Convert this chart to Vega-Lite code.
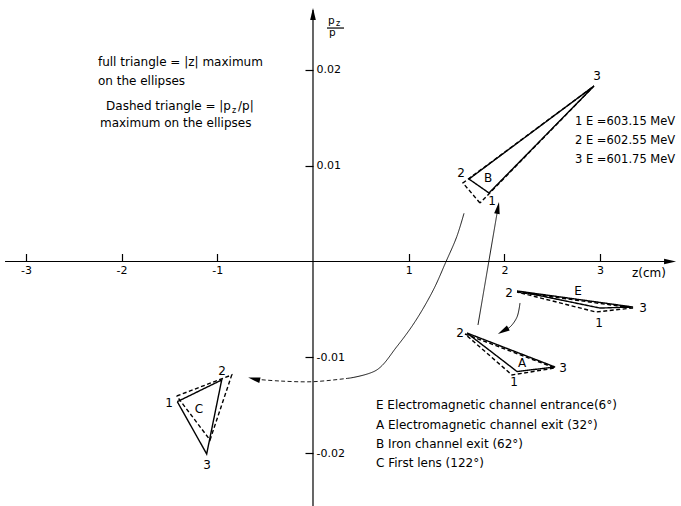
{
  "$schema": "https://vega.github.io/schema/vega-lite/v6.json",
  "width": 681,
  "height": 506,
  "padding": 0,
  "autosize": {"type": "none"},
  "background": "white",
  "config": {"view": {"stroke": null}, "font": "DejaVu Sans"},
  "datasets": {
    "rules": [
      {"z": -3.218, "z2": 3.70, "pz": 0, "pz2": 0},
      {"z": 0, "z2": 0, "pz": 0.0262, "pz2": -0.0256},
      {"z": 0.146, "z2": 0.324, "pz": 0.02432, "pz2": 0.02432}
    ],
    "tri": [
      {"id": "B-s", "style": "solid", "o": 1, "z": 1.839, "pz": 0.00714},
      {"id": "B-s", "style": "solid", "o": 2, "z": 1.630, "pz": 0.00859},
      {"id": "B-s", "style": "solid", "o": 3, "z": 2.936, "pz": 0.01828},
      {"id": "B-s", "style": "solid", "o": 4, "z": 1.839, "pz": 0.00714},
      {"id": "B-d", "style": "dashed", "o": 1, "z": 1.745, "pz": 0.00609},
      {"id": "B-d", "style": "dashed", "o": 2, "z": 1.567, "pz": 0.00818},
      {"id": "B-d", "style": "dashed", "o": 3, "z": 2.936, "pz": 0.01828},
      {"id": "B-d", "style": "dashed", "o": 4, "z": 1.745, "pz": 0.00609},
      {"id": "E-s", "style": "solid", "o": 1, "z": 2.132, "pz": -0.00307},
      {"id": "E-s", "style": "solid", "o": 2, "z": 3.344, "pz": -0.00474},
      {"id": "E-s", "style": "solid", "o": 3, "z": 2.999, "pz": -0.00485},
      {"id": "E-s", "style": "solid", "o": 4, "z": 2.132, "pz": -0.00307},
      {"id": "E-d", "style": "dashed", "o": 1, "z": 2.132, "pz": -0.00318},
      {"id": "E-d", "style": "dashed", "o": 2, "z": 3.344, "pz": -0.00484},
      {"id": "E-d", "style": "dashed", "o": 3, "z": 2.957, "pz": -0.00526},
      {"id": "E-d", "style": "dashed", "o": 4, "z": 2.132, "pz": -0.00318},
      {"id": "A-s", "style": "solid", "o": 1, "z": 1.609, "pz": -0.00745},
      {"id": "A-s", "style": "solid", "o": 2, "z": 2.529, "pz": -0.01099},
      {"id": "A-s", "style": "solid", "o": 3, "z": 2.132, "pz": -0.01146},
      {"id": "A-s", "style": "solid", "o": 4, "z": 1.609, "pz": -0.00745},
      {"id": "A-d", "style": "dashed", "o": 1, "z": 1.588, "pz": -0.00755},
      {"id": "A-d", "style": "dashed", "o": 2, "z": 2.529, "pz": -0.01109},
      {"id": "A-d", "style": "dashed", "o": 3, "z": 2.079, "pz": -0.01182},
      {"id": "A-d", "style": "dashed", "o": 4, "z": 1.588, "pz": -0.00755},
      {"id": "C-s", "style": "solid", "o": 1, "z": -1.418, "pz": -0.01460},
      {"id": "C-s", "style": "solid", "o": 2, "z": -0.954, "pz": -0.01234},
      {"id": "C-s", "style": "solid", "o": 3, "z": -1.111, "pz": -0.02005},
      {"id": "C-s", "style": "solid", "o": 4, "z": -1.418, "pz": -0.01460},
      {"id": "C-d", "style": "dashed", "o": 1, "z": -1.424, "pz": -0.01401},
      {"id": "C-d", "style": "dashed", "o": 2, "z": -0.849, "pz": -0.01182},
      {"id": "C-d", "style": "dashed", "o": 3, "z": -1.076, "pz": -0.01859},
      {"id": "C-d", "style": "dashed", "o": 4, "z": -1.424, "pz": -0.01401}
    ],
    "curves": [
      {"id": "BC1", "style": "solid", "o": 1, "z": 1.578, "pz": 0.00502},
      {"id": "BC1", "style": "solid", "o": 2, "z": 1.502, "pz": 0.00258},
      {"id": "BC1", "style": "solid", "o": 3, "z": 1.387, "pz": -0.00008},
      {"id": "BC1", "style": "solid", "o": 4, "z": 1.257, "pz": -0.00297},
      {"id": "BC1", "style": "solid", "o": 5, "z": 1.066, "pz": -0.00627},
      {"id": "BC1", "style": "solid", "o": 6, "z": 0.875, "pz": -0.00888},
      {"id": "BC1", "style": "solid", "o": 7, "z": 0.666, "pz": -0.01130},
      {"id": "BC1", "style": "solid", "o": 8, "z": 0.387, "pz": -0.01214},
      {"id": "BC2", "style": "dashed", "o": 1, "z": 0.387, "pz": -0.01214},
      {"id": "BC2", "style": "dashed", "o": 2, "z": 0.0, "pz": -0.01252},
      {"id": "BC2", "style": "dashed", "o": 3, "z": -0.345, "pz": -0.01245},
      {"id": "BC2", "style": "dashed", "o": 4, "z": -0.605, "pz": -0.01226},
      {"id": "EA", "style": "solid", "o": 1, "z": 2.163, "pz": -0.00432},
      {"id": "EA", "style": "solid", "o": 2, "z": 2.132, "pz": -0.00578},
      {"id": "EA", "style": "solid", "o": 3, "z": 2.059, "pz": -0.00682},
      {"id": "EA", "style": "solid", "o": 4, "z": 1.996, "pz": -0.00719},
      {"id": "AB", "style": "solid", "o": 1, "z": 1.724, "pz": -0.00661},
      {"id": "AB", "style": "solid", "o": 2, "z": 1.931, "pz": 0.00548}
    ],
    "heads": [
      {"z": 0, "pz": 0.02568, "dir": 0},
      {"z": 3.720, "pz": 0, "dir": 90},
      {"z": 1.931, "pz": 0.00548, "dir": 10},
      {"z": 1.996, "pz": -0.00719, "dir": 240},
      {"z": -0.605, "pz": -0.01226, "dir": 283}
    ],
    "labels": [
      {"t": "3", "z": 2.968, "pz": 0.01932},
      {"t": "2", "z": 1.547, "pz": 0.00922},
      {"t": "1", "z": 1.870, "pz": 0.0063},
      {"t": "B", "z": 1.829, "pz": 0.0087},
      {"t": "E", "z": 2.769, "pz": -0.00307},
      {"t": "2", "z": 2.048, "pz": -0.00328},
      {"t": "3", "z": 3.448, "pz": -0.00484},
      {"t": "1", "z": 2.988, "pz": -0.00641},
      {"t": "A", "z": 2.184, "pz": -0.01057},
      {"t": "1", "z": 2.100, "pz": -0.01255},
      {"t": "2", "z": 1.536, "pz": -0.00745},
      {"t": "3", "z": 2.612, "pz": -0.01109},
      {"t": "1", "z": -1.505, "pz": -0.01474},
      {"t": "2", "z": -0.951, "pz": -0.01141},
      {"t": "C", "z": -1.191, "pz": -0.01536},
      {"t": "3", "z": -1.108, "pz": -0.02120}
    ],
    "notes": [
      {"t": "full triangle = |z| maximum", "z": -2.247, "pz": 0.02078},
      {"t": "on the ellipses", "z": -2.247, "pz": 0.01880},
      {"t": "/p|", "z": -0.784, "pz": 0.01620},
      {"t": "maximum on the ellipses", "z": -2.226, "pz": 0.01443},
      {"t": "E  Electromagnetic channel entrance(6°)", "z": 0.658, "pz": -0.01495},
      {"t": "A  Electromagnetic channel exit (32°)", "z": 0.658, "pz": -0.01703},
      {"t": "B  Iron channel exit (62°)", "z": 0.658, "pz": -0.01901},
      {"t": "C  First lens (122°)", "z": 0.658, "pz": -0.02099},
      {"t": "z(cm)", "z": 3.333, "pz": -0.00120}
    ],
    "energy": [
      {"t": "1 E =603.15 MeV", "z": 2.737, "pz": 0.01453},
      {"t": "2 E =602.55 MeV", "z": 2.737, "pz": 0.01255},
      {"t": "3 E =601.75 MeV", "z": 2.737, "pz": 0.01057}
    ],
    "rnotes": [
      {"t": "Dashed triangle = |p", "z": -0.857, "pz": 0.01620}
    ],
    "subs": [
      {"t": "z", "z": -0.846, "pz": 0.01552},
      {"t": "z", "z": 0.240, "pz": 0.02453}
    ],
    "ytitle": [
      {"t": "p", "z": 0.157, "pz": 0.02476},
      {"t": "p", "z": 0.167, "pz": 0.02349}
    ]
  },
  "encoding": {
    "x": {
      "field": "z", "type": "quantitative",
      "scale": {"domain": [-3.2706, 3.8454], "nice": false, "zero": false},
      "axis": {
        "orient": "bottom", "offset": -244.5, "values": [-3, -2, -1, 1, 2, 3], "format": "d",
        "domain": false, "grid": false, "tickSize": -8, "tickColor": "black", "tickWidth": 1.2,
        "labelPadding": 11, "labelFont": "DejaVu Sans", "labelFontSize": 11, "labelColor": "black",
        "labelExpr": "replace(datum.label, '−', '-')", "labelOverlap": false, "labelFlush": false,
        "labelBound": false, "title": null
      }
    },
    "y": {
      "field": "pz", "type": "quantitative",
      "scale": {"domain": [-0.025469, 0.027240], "nice": false, "zero": false},
      "axis": {
        "orient": "right", "offset": -368, "values": [-0.02, -0.01, 0.01, 0.02], "format": ".2f",
        "domain": false, "grid": false, "tickSize": -8, "tickColor": "black", "tickWidth": 1.2,
        "labelPadding": 11, "labelAlign": "left", "labelBaseline": "middle",
        "labelFont": "DejaVu Sans", "labelFontSize": 11, "labelColor": "black",
        "labelExpr": "replace(datum.label, '−', '-')", "labelOverlap": false, "labelFlush": false,
        "labelBound": false, "title": null
      }
    }
  },
  "layer": [
    {
      "data": {"name": "rules"},
      "mark": {"type": "rule", "color": "black", "strokeWidth": 1.2},
      "encoding": {"x2": {"field": "z2"}, "y2": {"field": "pz2"}}
    },
    {
      "data": {"name": "tri"},
      "mark": {"type": "line", "color": "black", "strokeWidth": 1.4, "strokeJoin": "miter"},
      "encoding": {
        "detail": {"field": "id"},
        "order": {"field": "o", "type": "quantitative"},
        "strokeDash": {"field": "style", "type": "nominal", "scale": {"domain": ["solid", "dashed"], "range": [[1, 0], [4, 2.5]]}, "legend": null}
      }
    },
    {
      "data": {"name": "curves"},
      "mark": {"type": "line", "color": "black", "strokeWidth": 0.9, "interpolate": "catmull-rom"},
      "encoding": {
        "detail": {"field": "id"},
        "order": {"field": "o", "type": "quantitative"},
        "strokeDash": {"field": "style", "type": "nominal", "scale": {"domain": ["solid", "dashed"], "range": [[1, 0], [7, 3]]}, "legend": null}
      }
    },
    {
      "data": {"name": "heads"},
      "mark": {"type": "point", "shape": "M0,-1L0.4,0.7L-0.4,0.7Z", "size": 200, "filled": true, "color": "black", "opacity": 1, "strokeWidth": 0},
      "encoding": {"angle": {"field": "dir", "type": "quantitative", "scale": {"domain": [0, 360], "range": [0, 360]}}}
    },
    {
      "data": {"name": "labels"},
      "mark": {"type": "text", "font": "DejaVu Sans", "fontSize": 12, "align": "center", "baseline": "middle", "color": "black"},
      "encoding": {"text": {"field": "t"}}
    },
    {
      "data": {"name": "notes"},
      "mark": {"type": "text", "font": "DejaVu Sans", "fontSize": 12, "align": "left", "baseline": "middle", "color": "black"},
      "encoding": {"text": {"field": "t"}}
    },
    {
      "data": {"name": "energy"},
      "mark": {"type": "text", "font": "DejaVu Sans", "fontSize": 11.5, "align": "left", "baseline": "middle", "color": "black"},
      "encoding": {"text": {"field": "t"}}
    },
    {
      "data": {"name": "rnotes"},
      "mark": {"type": "text", "font": "DejaVu Sans", "fontSize": 12, "align": "right", "baseline": "middle", "color": "black"},
      "encoding": {"text": {"field": "t"}}
    },
    {
      "data": {"name": "subs"},
      "mark": {"type": "text", "font": "DejaVu Sans", "fontSize": 8, "align": "left", "baseline": "alphabetic", "color": "black"},
      "encoding": {"text": {"field": "t"}}
    },
    {
      "data": {"name": "ytitle"},
      "mark": {"type": "text", "font": "DejaVu Sans", "fontSize": 10.5, "align": "left", "baseline": "alphabetic", "color": "black"},
      "encoding": {"text": {"field": "t"}}
    }
  ]
}
